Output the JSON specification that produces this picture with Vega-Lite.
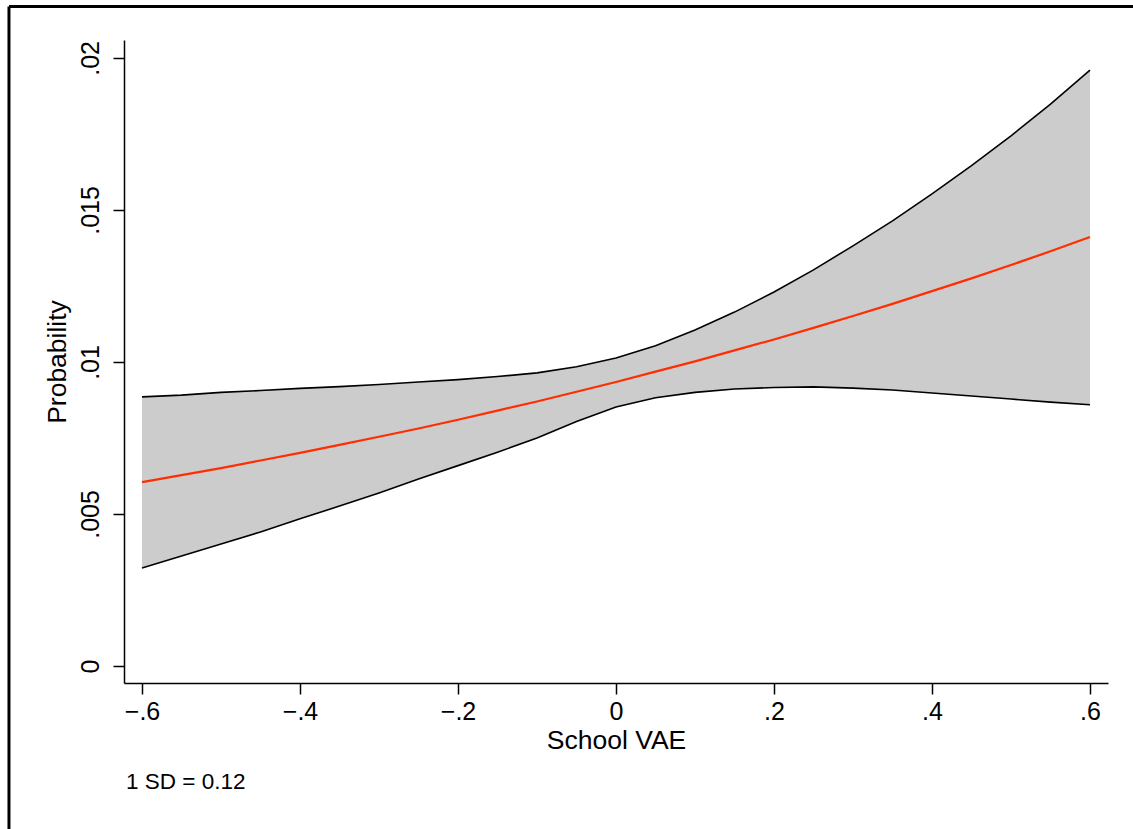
{
  "$schema": "https://vega.github.io/schema/vega-lite/v6.json",
  "width": 984,
  "height": 643,
  "autosize": {"type": "none"},
  "padding": {"left": 124, "top": 40, "right": 25, "bottom": 146},
  "background": "white",
  "config": {
    "view": {"stroke": null},
    "font": "Liberation Sans",
    "axis": {
      "grid": false,
      "domainColor": "black",
      "domainWidth": 1.5,
      "tickColor": "black",
      "tickWidth": 1.5,
      "tickSize": 11,
      "labelColor": "black",
      "labelFont": "Liberation Sans",
      "labelFontSize": 25,
      "titleFont": "Liberation Sans",
      "titleFontSize": 26.5,
      "titleFontWeight": "normal",
      "titleColor": "black"
    }
  },
  "title": {
    "text": "1 SD = 0.12",
    "orient": "bottom",
    "anchor": "start",
    "frame": "group",
    "fontSize": 22.5,
    "fontWeight": "normal",
    "font": "Liberation Sans",
    "color": "black",
    "offset": -60,
    "dx": 2
  },
  "data": {
    "values": [
      {"x": -0.6, "p": 0.00605, "lo": 0.00322, "hi": 0.00885},
      {"x": -0.55, "p": 0.00628, "lo": 0.00362, "hi": 0.00891},
      {"x": -0.5, "p": 0.00651, "lo": 0.00401, "hi": 0.009},
      {"x": -0.45, "p": 0.00676, "lo": 0.00441, "hi": 0.00906},
      {"x": -0.4, "p": 0.00701, "lo": 0.00484, "hi": 0.00913},
      {"x": -0.35, "p": 0.00727, "lo": 0.00526, "hi": 0.00919},
      {"x": -0.3, "p": 0.00754, "lo": 0.00569, "hi": 0.00926},
      {"x": -0.25, "p": 0.00781, "lo": 0.00615, "hi": 0.00934},
      {"x": -0.2, "p": 0.0081, "lo": 0.00659, "hi": 0.00942},
      {"x": -0.15, "p": 0.0084, "lo": 0.00703, "hi": 0.00952},
      {"x": -0.1, "p": 0.0087, "lo": 0.0075, "hi": 0.00964},
      {"x": -0.05, "p": 0.00902, "lo": 0.00804, "hi": 0.00984},
      {"x": 0, "p": 0.00934, "lo": 0.00852, "hi": 0.01013},
      {"x": 0.05, "p": 0.00968, "lo": 0.00882, "hi": 0.01053},
      {"x": 0.1, "p": 0.01002, "lo": 0.009, "hi": 0.01105},
      {"x": 0.15, "p": 0.01038, "lo": 0.00911, "hi": 0.01164},
      {"x": 0.2, "p": 0.01074, "lo": 0.00916, "hi": 0.0123},
      {"x": 0.25, "p": 0.01112, "lo": 0.00918, "hi": 0.01303},
      {"x": 0.3, "p": 0.01151, "lo": 0.00914, "hi": 0.01382},
      {"x": 0.35, "p": 0.01191, "lo": 0.00908, "hi": 0.01464},
      {"x": 0.4, "p": 0.01233, "lo": 0.00898, "hi": 0.01553},
      {"x": 0.45, "p": 0.01275, "lo": 0.00888, "hi": 0.01646},
      {"x": 0.5, "p": 0.01319, "lo": 0.00878, "hi": 0.01744},
      {"x": 0.55, "p": 0.01364, "lo": 0.00868, "hi": 0.01848},
      {"x": 0.6, "p": 0.01411, "lo": 0.00859, "hi": 0.0196}
    ]
  },
  "encoding": {
    "x": {
      "field": "x",
      "type": "quantitative",
      "scale": {"domain": [-0.6228, 0.6228], "nice": false, "zero": false},
      "axis": {
        "title": "School VAE",
        "values": [-0.6, -0.4, -0.2, 0, 0.2, 0.4, 0.6],
        "labelExpr": "datum.value == 0 ? '0' : replace(format(datum.value, '.1f'), '0.', '.')",
        "labelPadding": 5,
        "titlePadding": 3,
        "labelFlush": false
      }
    }
  },
  "layer": [
    {
      "mark": {"type": "area", "color": "#cccccc"},
      "encoding": {
        "y": {
          "field": "lo",
          "type": "quantitative",
          "scale": {"domain": [-0.00056, 0.02059], "nice": false, "zero": false},
          "axis": {
            "title": "Probability",
            "values": [0, 0.005, 0.01, 0.015, 0.02],
            "labelExpr": "datum.value == 0 ? '0' : replace(format(datum.value, '~g'), '0.', '.')",
            "labelAngle": 270,
            "labelAlign": "center",
            "labelBaseline": "bottom",
            "labelPadding": 10,
            "titlePadding": 7
          }
        },
        "y2": {"field": "hi"}
      }
    },
    {
      "mark": {"type": "line", "color": "black", "strokeWidth": 1.6},
      "encoding": {"y": {"field": "hi", "type": "quantitative"}}
    },
    {
      "mark": {"type": "line", "color": "black", "strokeWidth": 1.6},
      "encoding": {"y": {"field": "lo", "type": "quantitative"}}
    },
    {
      "mark": {"type": "line", "color": "#ff2d00", "strokeWidth": 2.2},
      "encoding": {"y": {"field": "p", "type": "quantitative"}}
    },
    {
      "data": {"values": [{"fx": -0.7684, "fy": 0.021694, "fy2": -0.00537, "fx2": 1.0}]},
      "mark": {"type": "rule", "color": "black", "strokeWidth": 3, "clip": false},
      "encoding": {
        "x": {"field": "fx", "type": "quantitative"},
        "y": {"field": "fy", "type": "quantitative"},
        "y2": {"field": "fy2"}
      }
    },
    {
      "data": {"values": [{"fx": -0.7684, "fy": 0.021694, "fy2": -0.00537, "fx2": 1.0}]},
      "mark": {"type": "rule", "color": "black", "strokeWidth": 3, "clip": false},
      "encoding": {
        "x": {"field": "fx", "type": "quantitative"},
        "x2": {"field": "fx2"},
        "y": {"field": "fy", "type": "quantitative"}
      }
    }
  ]
}
